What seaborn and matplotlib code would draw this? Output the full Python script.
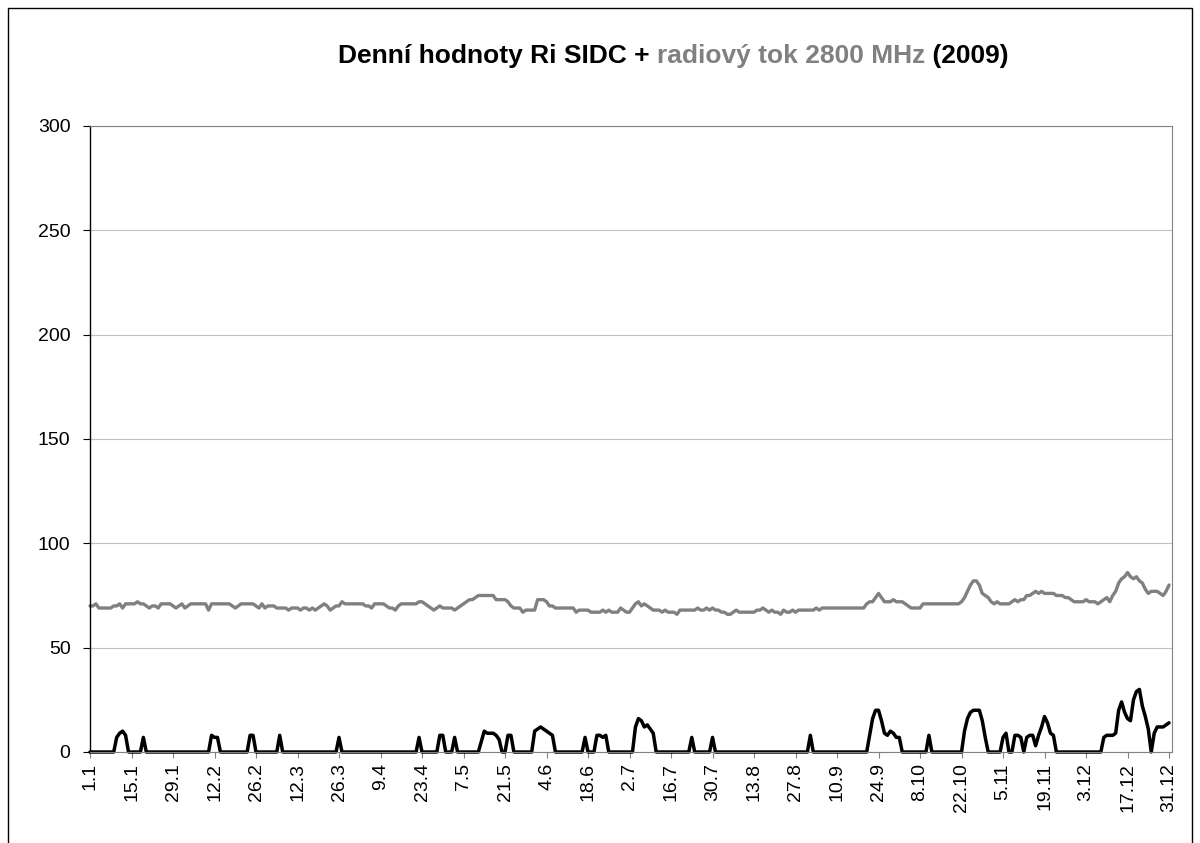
import numpy as np
import pandas as pd
import seaborn as sns
import matplotlib.pyplot as plt
from matplotlib.patches import Rectangle

# Denní hodnoty Ri (SIDC), rok 2009 - po měsících
ri_jan = [0, 0, 0, 0, 0, 0, 0, 0, 0, 7, 9, 10, 8, 0, 0, 0, 0, 0, 7, 0,
          0, 0, 0, 0, 0, 0, 0, 0, 0, 0, 0]
ri_feb = [0, 0, 0, 0, 0, 0, 0, 0, 0, 0, 8, 7, 7, 0, 0, 0, 0, 0, 0, 0,
          0, 0, 0, 8, 8, 0, 0, 0]
ri_mar = [0, 0, 0, 0, 0, 8, 0, 0, 0, 0, 0, 0, 0, 0, 0, 0, 0, 0, 0, 0,
          0, 0, 0, 0, 0, 7, 0, 0, 0, 0, 0]
ri_apr = [0, 0, 0, 0, 0, 0, 0, 0, 0, 0, 0, 0, 0, 0, 0, 0, 0, 0, 0, 0,
          0, 7, 0, 0, 0, 0, 0, 0, 8, 8]
ri_may = [0, 0, 0, 7, 0, 0, 0, 0, 0, 0, 0, 0, 5, 10, 9, 9, 9, 8, 6, 0,
          0, 8, 8, 0, 0, 0, 0, 0, 0, 0, 10]
ri_jun = [11, 12, 11, 10, 9, 8, 0, 0, 0, 0, 0, 0, 0, 0, 0, 0, 7, 0, 0, 0,
          8, 8, 7, 8, 0, 0, 0, 0, 0, 0]
ri_jul = [0, 0, 0, 12, 16, 15, 12, 13, 11, 9, 0, 0, 0, 0, 0, 0, 0, 0, 0, 0,
          0, 0, 7, 0, 0, 0, 0, 0, 0, 7, 0]
ri_aug = [0, 0, 0, 0, 0, 0, 0, 0, 0, 0, 0, 0, 0, 0, 0, 0, 0, 0, 0, 0,
          0, 0, 0, 0, 0, 0, 0, 0, 0, 0, 0]
ri_sep = [8, 0, 0, 0, 0, 0, 0, 0, 0, 0, 0, 0, 0, 0, 0, 0, 0, 0, 0, 0,
          8, 16, 20, 20, 15, 9, 8, 10, 9, 7]
ri_oct = [7, 0, 0, 0, 0, 0, 0, 0, 0, 0, 8, 0, 0, 0, 0, 0, 0, 0, 0, 0,
          0, 0, 10, 16, 19, 20, 20, 20, 15, 7, 0]
ri_nov = [0, 0, 0, 0, 7, 9, 0, 0, 8, 8, 7, 0, 7, 8, 8, 3, 8, 12, 17, 14,
          9, 8, 0, 0, 0, 0, 0, 0, 0, 0]
ri_dec = [0, 0, 0, 0, 0, 0, 0, 0, 7, 8, 8, 8, 9, 20, 24, 19, 16, 15, 25, 29,
          30, 22, 17, 11, 0, 9, 12, 12, 12, 13, 14]

# Radiový tok 2800 MHz (sfu)
tok_jan = [70, 70, 71, 69, 69, 69, 69, 69, 70, 70, 71, 69, 71, 71, 71, 71, 72, 71, 71, 70,
           69, 70, 70, 69, 71, 71, 71, 71, 70, 69, 70]
tok_feb = [71, 69, 70, 71, 71, 71, 71, 71, 71, 68, 71, 71, 71, 71, 71, 71, 71, 70, 69, 70,
           71, 71, 71, 71, 71, 70, 69, 71]
tok_mar = [69, 70, 70, 70, 69, 69, 69, 69, 68, 69, 69, 69, 68, 69, 69, 68, 69, 68, 69, 70,
           71, 70, 68, 69, 70, 70, 72, 71, 71, 71, 71]
tok_apr = [71, 71, 71, 70, 70, 69, 71, 71, 71, 71, 70, 69, 69, 68, 70, 71, 71, 71, 71, 71,
           71, 72, 72, 71, 70, 69, 68, 69, 70, 69]
tok_may = [69, 69, 69, 68, 69, 70, 71, 72, 73, 73, 74, 75, 75, 75, 75, 75, 75, 73, 73, 73,
           73, 72, 70, 69, 69, 69, 67, 68, 68, 68, 68]
tok_jun = [73, 73, 73, 72, 70, 70, 69, 69, 69, 69, 69, 69, 69, 67, 68, 68, 68, 68, 67, 67,
           67, 67, 68, 67, 68, 67, 67, 67, 69, 68]
tok_jul = [67, 67, 69, 71, 72, 70, 71, 70, 69, 68, 68, 68, 67, 68, 67, 67, 67, 66, 68, 68,
           68, 68, 68, 68, 69, 68, 68, 69, 68, 69, 68]
tok_aug = [68, 67, 67, 66, 66, 67, 68, 67, 67, 67, 67, 67, 67, 68, 68, 69, 68, 67, 68, 67,
           67, 66, 68, 67, 67, 68, 67, 68, 68, 68, 68]
tok_sep = [68, 68, 69, 68, 69, 69, 69, 69, 69, 69, 69, 69, 69, 69, 69, 69, 69, 69, 69, 71,
           72, 72, 74, 76, 74, 72, 72, 72, 73, 72]
tok_oct = [72, 72, 71, 70, 69, 69, 69, 69, 71, 71, 71, 71, 71, 71, 71, 71, 71, 71, 71, 71,
           71, 72, 74, 77, 80, 82, 82, 80, 76, 75, 74]
tok_nov = [72, 71, 72, 71, 71, 71, 71, 72, 73, 72, 73, 73, 75, 75, 76, 77, 76, 77, 76, 76,
           76, 76, 75, 75, 75, 74, 74, 73, 72, 72]
tok_dec = [72, 72, 73, 72, 72, 72, 71, 72, 73, 74, 72, 75, 77, 81, 83, 84, 86, 84, 83, 84,
           82, 81, 78, 76, 77, 77, 77, 76, 75, 77, 80]

tick_labels = ["1.1", "15.1", "29.1", "12.2", "26.2", "12.3", "26.3", "9.4", "23.4",
               "7.5", "21.5", "4.6", "18.6", "2.7", "16.7", "30.7", "13.8", "27.8",
               "10.9", "24.9", "8.10", "22.10", "5.11", "19.11", "3.12", "17.12", "31.12"]

ri = (ri_jan + ri_feb + ri_mar + ri_apr + ri_may + ri_jun +
      ri_jul + ri_aug + ri_sep + ri_oct + ri_nov + ri_dec)
tok = (tok_jan + tok_feb + tok_mar + tok_apr + tok_may + tok_jun +
       tok_jul + tok_aug + tok_sep + tok_oct + tok_nov + tok_dec)

df = pd.DataFrame({"den": np.arange(len(ri)), "ri": ri, "tok": tok})

sns.set_style("white")
plt.rcParams['font.family'] = ['Liberation Sans', 'DejaVu Sans']

W, H = 1200, 843
fig = plt.figure(figsize=(W / 100, H / 100), dpi=100)
ax = fig.add_axes([90 / W, 1 - 752 / H, (1172 - 90) / W, (752 - 126) / H])

# ramecek grafu
fig.patches.append(Rectangle((8 / W, -0.05), 1184 / W, 1.05 - 8 / H, transform=fig.transFigure,
                             fill=False, edgecolor="black", linewidth=1))

ax.yaxis.grid(True, color="#c0c0c0", linewidth=0.8)
ax.set_axisbelow(True)

sns.lineplot(data=df, x="den", y="tok", color="#808080", linewidth=2.4, ax=ax,
             solid_joinstyle="round", clip_on=False)
sns.lineplot(data=df, x="den", y="ri", color="black", linewidth=2.5, ax=ax,
             solid_joinstyle="round", clip_on=False)

ax.set_xlim(0, 365)
ax.set_ylim(0, 300)
ax.set_yticks(range(0, 301, 50))
ax.set_xticks(np.arange(0, 365, 14))
ax.set_xticklabels(tick_labels, rotation=90)
ax.set_xlabel("")
ax.set_ylabel("")

ax.tick_params(axis="y", direction="out", length=5, width=0.8, color="black",
               labelsize=14, pad=9, labelcolor="black")
ax.tick_params(axis="x", direction="out", length=4, width=0.8, color="#808080",
               labelsize=14, pad=4, labelcolor="black")
ax.tick_params(left=True, bottom=True)

for side in ["top", "right", "bottom"]:
    ax.spines[side].set_color("#808080")
    ax.spines[side].set_linewidth(0.8)
ax.spines["left"].set_color("black")
ax.spines["left"].set_linewidth(1.0)

# nadpis ve trech barvach
parts = [("Denní hodnoty Ri SIDC + ", "black"),
         ("radiový tok 2800 MHz", "#808080"),
         (" (2009)", "black")]
renderer = fig.canvas.get_renderer()
texts = []
for s, c in parts:
    t = fig.text(0, 1 - 56 / H, s, color=c, fontsize=19, fontweight="bold", va="center")
    texts.append(t)
widths = [t.get_window_extent(renderer).width for t in texts]
x = 673 - sum(widths) / 2
for t, w in zip(texts, widths):
    t.set_x(x / W)
    x += w

fig.savefig("out.png", dpi=100)
